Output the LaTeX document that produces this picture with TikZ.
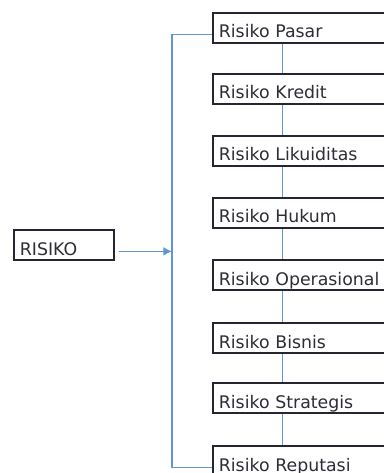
\documentclass[tikz,border=0pt]{standalone}
\usepackage{fontspec}
\setmainfont{DejaVu Sans}
\usepackage{tikz}
\usetikzlibrary{calc,arrows.meta,backgrounds}

\definecolor{linkblue}{RGB}{96,150,212}
\definecolor{boxline}{RGB}{40,36,50}
\definecolor{teks}{RGB}{45,45,55}

\tikzset{
    risbox/.style={draw=boxline,line width=1.3pt,fill=white,rectangle,text=teks,
        inner xsep=4.5pt,inner ysep=0pt,text height=18.75pt,text depth=3.75pt,
        align=left,font=\fontsize{13}{15}\selectfont},
    jenis/.style={risbox,text width=126pt,anchor=west},
    link/.style={draw=linkblue,line width=0.8pt},
    panah/.style={link,-{Latex[length=6.5pt,width=6.5pt]},shorten <=3pt}
}

\begin{document}
\begin{tikzpicture}[x=0.75pt,y=-0.75pt]
            \useasboundingbox (0,0) rectangle (384,473);
            \clip (0,0) rectangle (384,473);

            \coordinate (spine) at (172,0);
            \coordinate (kx) at (282,0);

            \node[risbox,text width=66pt,anchor=west] (risiko) at (13,245) {RISIKO};

            \node[jenis] (pasar) at (212,28) {Risiko Pasar};
            \node[jenis] (kredit) at (212,89) {Risiko Kredit};
            \node[jenis] (likuiditas) at (212,151) {Risiko Likuiditas};
            \node[jenis] (hukum) at (212,213) {Risiko Hukum};
            \node[jenis] (operasional) at (212,275) {Risiko Operasional};
            \node[jenis] (bisnis) at (212,338) {Risiko Bisnis};
            \node[jenis] (strategis) at (212,398) {Risiko Strategis};
            \node[jenis] (reputasi) at (212,461) {Risiko Reputasi};

            \begin{scope}[on background layer]
            % garis di balik kotak
            \draw[link,line width=0.6pt] (kx |- pasar.south) -- (kx |- reputasi.north);
            \draw[link] (pasar.mid west) -- (spine |- pasar.mid west)
                -- (spine |- reputasi.mid west) -- (reputasi.mid west);
            \draw[panah] (risiko.mid east) -- (spine |- risiko.mid east);
            \end{scope}
          \end{tikzpicture}
\end{document}
